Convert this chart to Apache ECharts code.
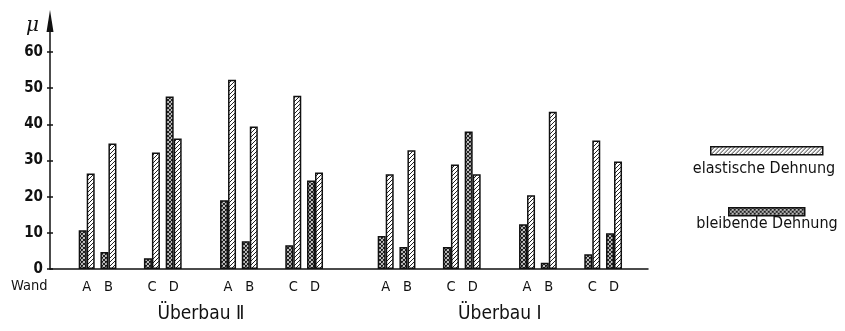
<!DOCTYPE html>
<html>
<head>
<meta charset="utf-8">
<script src="https://cdn.jsdelivr.net/npm/echarts@6/dist/echarts.min.js"></script>
<style>
  html, body { margin: 0; padding: 0; background: #fff; }
  #chart { width: 845px; height: 331px; }
</style>
</head>
<body>
<div id="chart"></div>
<script>
// Strain per wall (µ), four wall sets A–D, two per superstructure
const walls = ['A', 'B', 'C', 'D'];
const setGroups = ['Überbau Ⅱ', 'Überbau Ⅱ', 'Überbau Ⅰ', 'Überbau Ⅰ'];
const groupNames = ['Überbau Ⅱ', 'Überbau Ⅰ'];
const elastic = [26.4, 34.7, 32.2, 36.1, 52.3, 39.4, 47.9, 26.7, 26.2, 32.8, 28.9, 26.2, 20.4, 43.5, 35.5, 29.7];
const bleibend = [10.7, 4.7, 3.0, 47.7, 19.0, 7.7, 6.6, 24.5, 9.1, 6.1, 6.1, 38.0, 12.4, 1.7, 4.1, 9.9];
const yTicks = [0, 10, 20, 30, 40, 50, 60];
const seriesNames = ['elastische Dehnung', 'bleibende Dehnung'];

// Slot layout of the category axis (fine slots so pairs and gaps can be spaced)
const SLOTS = 220, LEAD = 13, PAIR = 8, MID = 16, SET_GAP = 20, GROUP_GAP = 26;
const slotOf = [];
let pos = LEAD;
for (let s = 0; s < setGroups.length; s++) {
  walls.forEach((w, wi) => {
    slotOf.push(pos);
    if (wi === 0 || wi === 2) pos += PAIR;
    else if (wi === 1) pos += MID;
    else pos += (s < setGroups.length - 1 && setGroups[s + 1] !== setGroups[s]) ? GROUP_GAP : SET_GAP;
  });
}
const slotLabel = {};
slotOf.forEach((p, i) => { slotLabel[p] = walls[i % walls.length]; });
const groupLabel = {};
groupNames.forEach(g => {
  const idx = slotOf.filter((p, i) => setGroups[Math.floor(i / walls.length)] === g);
  groupLabel[Math.round((idx[0] + idx[idx.length - 1]) / 2)] = g;
});
const categories = Array.from({ length: SLOTS }, (_, i) => 's' + i);
function toSlots(values) {
  const out = new Array(SLOTS).fill(null);
  values.forEach((v, i) => { out[slotOf[i]] = v; });
  return out;
}

// Fill patterns: diagonal hatching and a dense cross lattice
function hatchTile() {
  const c = document.createElement('canvas');
  c.width = 4; c.height = 4;
  const g = c.getContext('2d');
  g.fillStyle = '#fff'; g.fillRect(0, 0, 4, 4);
  g.strokeStyle = '#222'; g.lineWidth = 1.0;
  g.beginPath();
  g.moveTo(-1, 5); g.lineTo(5, -1);
  g.moveTo(-1, 1); g.lineTo(1, -1);
  g.moveTo(3, 5); g.lineTo(5, 3);
  g.stroke();
  return c;
}
function latticeTile() {
  const c = document.createElement('canvas');
  c.width = 4; c.height = 4;
  const g = c.getContext('2d');
  g.fillStyle = '#fff'; g.fillRect(0, 0, 4, 4);
  g.strokeStyle = '#1a1a1a'; g.lineWidth = 1.2;
  g.beginPath();
  g.moveTo(-1, 5); g.lineTo(5, -1);
  g.moveTo(-1, 1); g.lineTo(1, -1);
  g.moveTo(3, 5); g.lineTo(5, 3);
  g.moveTo(-1, -1); g.lineTo(5, 5);
  g.moveTo(3, -1); g.lineTo(5, 1);
  g.moveTo(-1, 3); g.lineTo(1, 5);
  g.stroke();
  return c;
}
const hatchFill = { image: hatchTile(), repeat: 'repeat' };
const latticeFill = { image: latticeTile(), repeat: 'repeat' };

const FONT = 'DejaVu Sans Condensed';
const INK = '#111';

const chart = echarts.init(document.getElementById('chart'), null, { renderer: 'canvas' });
chart.setOption({
  backgroundColor: '#fff',
  animation: false,
  grid: { left: 50, right: 197, top: 21, bottom: 62, containLabel: false },
  xAxis: [
    {
      type: 'category', data: categories, boundaryGap: true,
      axisLine: { lineStyle: { color: INK, width: 1.5 } },
      axisTick: { show: false },
      axisLabel: {
        interval: 0, margin: 11, color: INK, fontFamily: FONT, fontSize: 14.5,
        formatter: (v, i) => slotLabel[i] || ''
      }
    },
    {
      type: 'category', data: categories, boundaryGap: true, position: 'bottom',
      axisLine: { show: false }, axisTick: { show: false },
      axisLabel: {
        interval: 0, margin: 36, color: INK, fontFamily: FONT, fontSize: 19,
        formatter: (v, i) => groupLabel[i] || ''
      }
    }
  ],
  yAxis: [
    {
      type: 'value', min: 0, max: 68.57, position: 'left',
      axisLine: {
        show: true, lineStyle: { color: INK, width: 1.5 },
        symbol: ['none', 'triangle'], symbolSize: [7, 22]
      },
      axisTick: { show: true, customValues: yTicks, length: 3, lineStyle: { color: INK, width: 1.5 } },
      axisLabel: { customValues: yTicks, margin: 7, color: INK, fontFamily: FONT, fontWeight: 'bold', fontSize: 15 },
      splitLine: { show: false }
    },
    {
      type: 'value', min: 0, max: 68.57, position: 'left',
      axisLine: { show: false },
      axisTick: { show: true, inside: true, customValues: yTicks, length: 3, lineStyle: { color: INK, width: 1.5 } },
      axisLabel: { show: false },
      splitLine: { show: false }
    }
  ],
  legend: [
    {
      left: 710, top: 146, padding: 0, itemWidth: 112, itemHeight: 8, icon: 'rect',
      data: [seriesNames[0]], formatter: () => '', selectedMode: false,
      itemStyle: { borderColor: INK, borderWidth: 1.5 }
    },
    {
      left: 728, top: 207, padding: 0, itemWidth: 76, itemHeight: 8, icon: 'rect',
      data: [seriesNames[1]], formatter: () => '', selectedMode: false,
      itemStyle: { borderColor: INK, borderWidth: 1.5 }
    }
  ],
  graphic: [
    { type: 'text', left: 26, top: 16, style: { text: 'μ', font: 'italic 20px "DejaVu Serif"', fill: INK } },
    { type: 'text', left: 11, top: 279, style: { text: 'Wand', font: '14.5px "' + FONT + '"', fill: INK } },
    { type: 'text', x: 764, y: 169, style: { text: seriesNames[0], font: '16px "' + FONT + '"', fill: INK, align: 'center', verticalAlign: 'middle' } },
    { type: 'text', x: 767, y: 224, style: { text: seriesNames[1], font: '16px "' + FONT + '"', fill: INK, align: 'center', verticalAlign: 'middle' } }
  ],
  series: [
    {
      name: seriesNames[1], type: 'bar', xAxisIndex: 0, yAxisIndex: 0,
      data: toSlots(bleibend), barWidth: 8, barGap: '0%',
      itemStyle: { color: latticeFill, borderColor: INK, borderWidth: 1.5 }
    },
    {
      name: seriesNames[0], type: 'bar', xAxisIndex: 0, yAxisIndex: 0,
      data: toSlots(elastic), barWidth: 8, barGap: '0%',
      itemStyle: { color: hatchFill, borderColor: INK, borderWidth: 1.5 }
    }
  ]
});
</script>
</body>
</html>
